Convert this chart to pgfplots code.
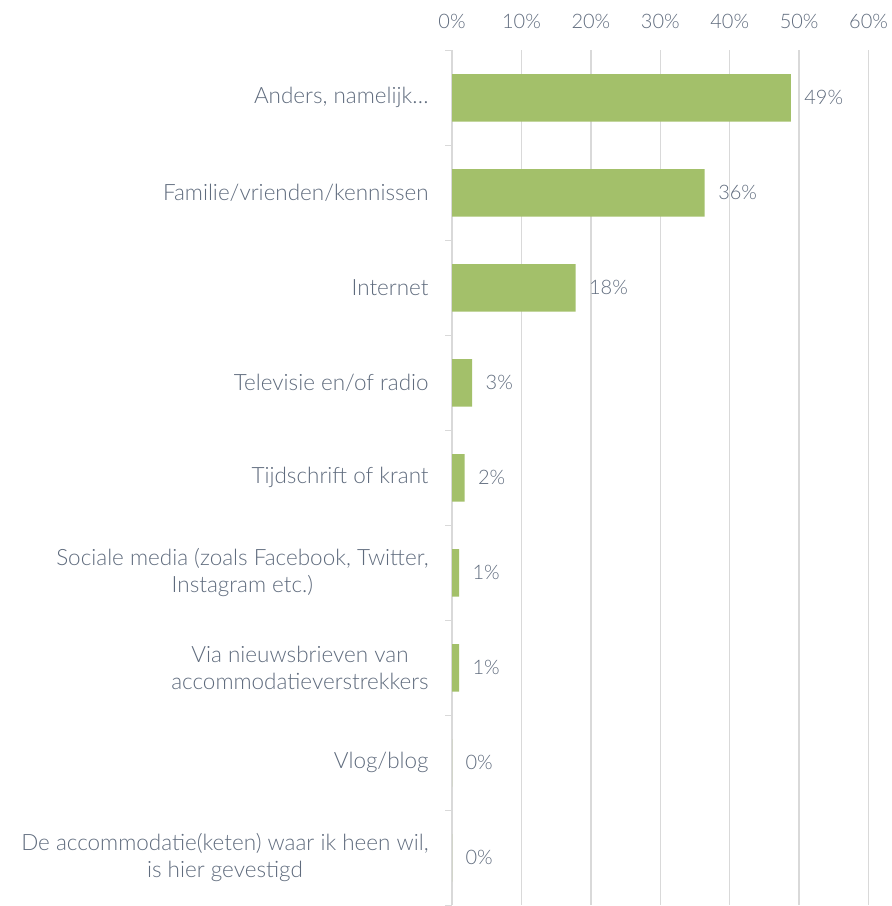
\documentclass[border={18pt 0pt 0pt 11pt}]{standalone}
\usepackage{pgfplots}
\pgfplotsset{compat=1.18}
\usepackage{fontspec}
\setmainfont{Lato}[UprightFont={* Light}]
\definecolor{bargreen}{HTML}{A3C06A}
\definecolor{txtgray}{HTML}{5F6B7D}
\definecolor{gridgray}{HTML}{D9D9D9}
\begin{document}
\begin{tikzpicture}
\begin{axis}[
  xbar, scale only axis, width=417pt, height=856pt,
  xmin=0, xmax=60, ymin=-0.5, ymax=8.5, y dir=reverse,
  bar width=0.5,
  axis x line=top, axis y line=left, axis line style={-},
  x axis line style={draw=none},
  y axis line style={draw=gridgray, line width=1.5pt},
  xtick={0,10,20,30,40,50,60},
  xticklabels={0\%,10\%,20\%,30\%,40\%,50\%,60\%},
  xmajorgrids, grid style={gridgray, line width=1.5pt},
  major tick length=0pt, minor tick length=7pt, tick align=outside,
  minor tick style={draw=gridgray, line width=1.5pt},
  ytick={0,...,8},
  minor ytick={-0.5,0.5,...,8.5},
  yticklabels={{Anders, namelijk\ldots},{Familie/vrienden/kennissen},{Internet},{Televisie en/of radio},{Tijdschrift of krant},{Sociale media (zoals Facebook, Twitter,\\Instagram etc.)},{Via nieuwsbrieven van\\accommodatieverstrekkers},{Vlog/blog},{De accommodatie(keten) waar ik heen wil,\\is hier gevestigd}},
  yticklabel style={align=center, font=\fontsize{22.5}{27}\selectfont, text=txtgray, xshift=-20pt},
  xticklabel style={font=\fontsize{20}{24}\selectfont, text=txtgray, yshift=18pt},
  nodes near coords, point meta=explicit symbolic,
  nodes near coords style={anchor=west, xshift=10pt, font=\fontsize{20}{24}\selectfont, text=txtgray},
  clip=false,
]
\addplot[fill=bargreen, draw=none] coordinates {
  (48.8,0) [49\%]
  (36.4,1) [36\%]
  (17.8,2) [18\%]
  (2.9,3) [3\%]
  (1.8,4) [2\%]
  (1.0,5) [1\%]
  (1.0,6) [1\%]
  (0,7) [0\%]
  (0,8) [0\%]
};
\end{axis}
\end{tikzpicture}
\end{document}
